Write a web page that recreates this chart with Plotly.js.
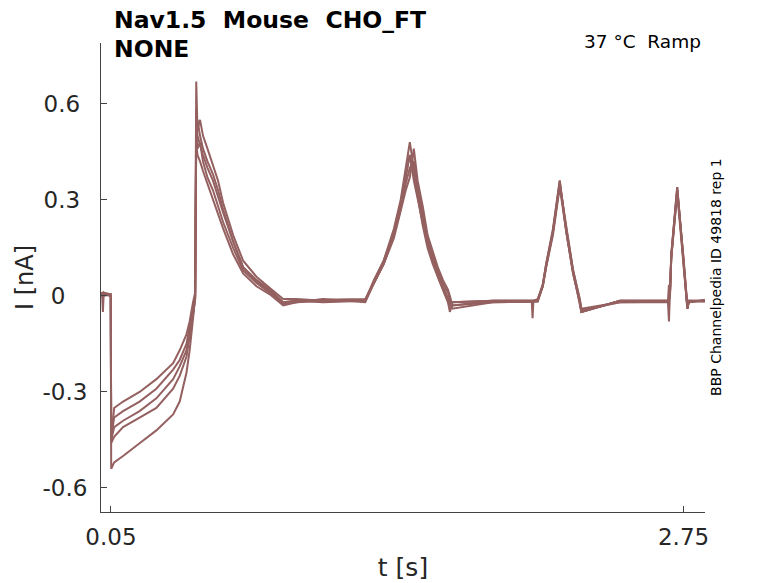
<!DOCTYPE html>
<html>
<head>
<meta charset="utf-8">
<script src="https://cdn.plot.ly/plotly-3.0.1.min.js"></script>
<style>
  html, body { margin: 0; padding: 0; background: #fff; }
  #chart { width: 778px; height: 583px; }
</style>
</head>
<body>
<div id="chart"></div>
<script>
// time points [s]
const tSec = [
    0, 0.008, 0.012, 0.016, 0.049, 0.051, 0.065, 0.107, 0.185, 0.264,
    0.343, 0.374, 0.406, 0.421, 0.437, 0.447, 0.452, 0.458, 0.47, 0.484,
    0.505, 0.531, 0.555, 0.579, 0.626, 0.673, 0.736, 0.799, 0.862, 0.925,
    1.05, 1.249, 1.29, 1.336, 1.384, 1.416, 1.44, 1.459, 1.478, 1.496,
    1.52, 1.543, 1.567, 1.591, 1.615, 1.639, 1.648, 1.66, 1.85, 2.034,
    2.038, 2.042, 2.062, 2.086, 2.102, 2.134, 2.166, 2.197, 2.229, 2.261,
    2.268, 2.45, 2.676, 2.681, 2.686, 2.692, 2.72, 2.748, 2.768, 2.775,
    2.85
];

// current [nA], one array per sweep
const iRep1 = [
    0.005, 0.01, -0.05, 0.01, 0.005, -0.54, -0.52, -0.50, -0.46, -0.42,
    -0.37, -0.33, -0.24, -0.17, -0.07, 0.0, 0.50, 0.55, 0.50, 0.46,
    0.42, 0.38, 0.33, 0.27, 0.17, 0.09, 0.045, 0.015, -0.02, -0.015,
    -0.012, -0.01, 0.04, 0.10, 0.19, 0.28, 0.37, 0.44, 0.36, 0.30,
    0.23, 0.16, 0.11, 0.06, 0.02, -0.02, -0.05, -0.02, -0.015, -0.015,
    -0.07, -0.015, -0.01, 0.035, 0.095, 0.20, 0.36, 0.20, 0.075, -0.02,
    -0.05, -0.015, -0.015, -0.08, 0.03, 0.13, 0.34, 0.13, -0.04, -0.015,
    -0.015
];
const iRep2 = [
    0.0, 0.01, 0.0, 0.01, 0.0, -0.45, -0.35, -0.33, -0.30, -0.26,
    -0.21, -0.17, -0.12, -0.08, -0.02, 0.01, 0.67, 0.52, 0.55, 0.50,
    0.46, 0.41, 0.36, 0.29, 0.19, 0.11, 0.06, 0.025, -0.01, -0.01,
    -0.015, -0.012, 0.045, 0.11, 0.21, 0.30, 0.40, 0.48, 0.40, 0.32,
    0.24, 0.17, 0.12, 0.07, 0.03, -0.01, -0.02, -0.03, -0.02, -0.018,
    -0.018, -0.018, -0.012, 0.03, 0.09, 0.20, 0.35, 0.21, 0.08, -0.01,
    -0.04, -0.02, -0.02, 0.035, 0.0, 0.12, 0.33, 0.13, -0.03, -0.02,
    -0.012
];
const iRep3 = [
    0.005, 0.0, 0.005, 0.0, 0.005, -0.44, -0.38, -0.36, -0.33, -0.29,
    -0.23, -0.20, -0.15, -0.10, -0.04, 0.0, 0.58, 0.50, 0.47, 0.44,
    0.40, 0.36, 0.31, 0.26, 0.17, 0.09, 0.05, 0.02, -0.02, -0.015,
    -0.02, -0.015, 0.05, 0.11, 0.20, 0.29, 0.38, 0.44, 0.38, 0.31,
    0.22, 0.15, 0.10, 0.06, 0.02, -0.02, -0.03, -0.02, -0.015, -0.015,
    -0.015, -0.015, -0.015, 0.035, 0.10, 0.21, 0.36, 0.20, 0.07, -0.02,
    -0.05, -0.015, -0.015, -0.02, 0.02, 0.13, 0.34, 0.12, -0.04, -0.015,
    -0.018
];
const iRep4 = [
    0.0, 0.005, 0.01, 0.005, 0.0, -0.45, -0.41, -0.39, -0.36, -0.32,
    -0.26, -0.22, -0.17, -0.12, -0.05, -0.01, 0.52, 0.46, 0.48, 0.42,
    0.37, 0.33, 0.28, 0.23, 0.15, 0.08, 0.04, 0.01, -0.025, -0.02,
    -0.01, -0.02, 0.04, 0.10, 0.19, 0.27, 0.35, 0.40, 0.42, 0.34,
    0.26, 0.18, 0.13, 0.08, 0.04, 0.01, -0.01, -0.04, -0.02, -0.02,
    -0.02, -0.02, -0.018, 0.03, 0.10, 0.20, 0.35, 0.21, 0.08, -0.015,
    -0.045, -0.02, -0.018, -0.01, 0.01, 0.12, 0.33, 0.13, -0.035, -0.02,
    -0.015
];
const iRep5 = [
    0.005, 0.0, 0.005, 0.01, 0.0, -0.46, -0.44, -0.41, -0.38, -0.35,
    -0.29, -0.25, -0.19, -0.13, -0.06, -0.01, 0.48, 0.44, 0.42, 0.39,
    0.35, 0.30, 0.26, 0.21, 0.13, 0.07, 0.03, 0.005, -0.03, -0.02,
    -0.015, -0.015, 0.04, 0.10, 0.18, 0.27, 0.33, 0.37, 0.46, 0.36,
    0.28, 0.19, 0.14, 0.09, 0.05, 0.02, 0.0, -0.03, -0.015, -0.015,
    -0.015, -0.015, -0.015, 0.03, 0.09, 0.19, 0.34, 0.20, 0.07, -0.02,
    -0.05, -0.015, -0.015, -0.015, 0.01, 0.12, 0.32, 0.12, -0.04, -0.015,
    -0.015
];

const nb = '\u00a0';
const xTicks = [0.05, 2.75];
const xTickText = ['0.05', '2.75'];
const yTicks = [-0.6, -0.3, 0, 0.3, 0.6];
// labels in the picture are not flush right: "0" sits well left of the others
const yTickText = ['-0.6', '-0.3', '0' + nb + nb + nb, '0.3' + nb, '0.6' + nb];

const sweeps = [iRep1, iRep2, iRep3, iRep4, iRep5];
const lineColor = 'rgb(148,96,96)';
const font = 'DejaVu Sans, sans-serif';

const traces = sweeps.map(function (vals) {
    return {
        x: tSec,
        y: vals,
        type: 'scatter',
        mode: 'lines',
        line: { color: lineColor, width: 2 },
        hoverinfo: 'skip',
        showlegend: false
    };
});

const axisCommon = {
    showgrid: false,
    zeroline: false,
    showline: true,
    linecolor: '#444',
    linewidth: 1,
    ticks: 'inside',
    ticklen: 6,
    tickcolor: '#444',
    tickfont: { family: font, size: 23, color: '#262626' },
    mirror: false
};

const layout = {
    width: 778,
    height: 583,
    margin: { l: 101, r: 73, t: 43, b: 71 },
    paper_bgcolor: '#fff',
    plot_bgcolor: '#fff',
    font: { family: font, color: '#262626' },
    xaxis: Object.assign({}, axisCommon, {
        range: [0.003, 2.851],
        tickvals: xTicks,
        ticktext: xTickText,
        ticklabelstandoff: 4,
        title: { text: 't [s]', font: { family: font, size: 25, color: '#262626' }, standoff: 9 }
    }),
    yaxis: Object.assign({}, axisCommon, {
        range: [-0.675, 0.79],
        tickvals: yTicks,
        ticktext: yTickText,
        ticklabelstandoff: 8,
        title: { text: 'I [nA]', font: { family: font, size: 24, color: '#262626' }, standoff: 2 }
    }),
    annotations: [
        {
            text: '<b>Nav1.5' + nb + nb + 'Mouse' + nb + nb + 'CHO_FT</b>',
            xref: 'paper', yref: 'paper', x: 0.018, y: 1.049,
            xanchor: 'left', yanchor: 'middle', showarrow: false,
            font: { family: font, size: 23.5, color: '#000' }
        },
        {
            text: '<b>NONE</b>',
            xref: 'paper', yref: 'paper', x: 0.018, y: 0.988,
            xanchor: 'left', yanchor: 'middle', showarrow: false,
            font: { family: font, size: 23.5, color: '#000' }
        },
        {
            text: '37 °C' + nb + nb + 'Ramp',
            xref: 'paper', yref: 'paper', x: 0.9967, y: 1.004,
            xanchor: 'right', yanchor: 'middle', showarrow: false,
            font: { family: font, size: 18.5, color: '#000' }
        },
        {
            text: 'BBP Channelpedia ID 49818 rep 1',
            xref: 'paper', yref: 'paper', x: 1.018, y: 0.501,
            xanchor: 'center', yanchor: 'middle', showarrow: false,
            textangle: -90,
            font: { family: font, size: 14, color: '#000' }
        }
    ]
};

Plotly.newPlot('chart', traces, layout, { displayModeBar: false, staticPlot: true });
</script>
</body>
</html>
